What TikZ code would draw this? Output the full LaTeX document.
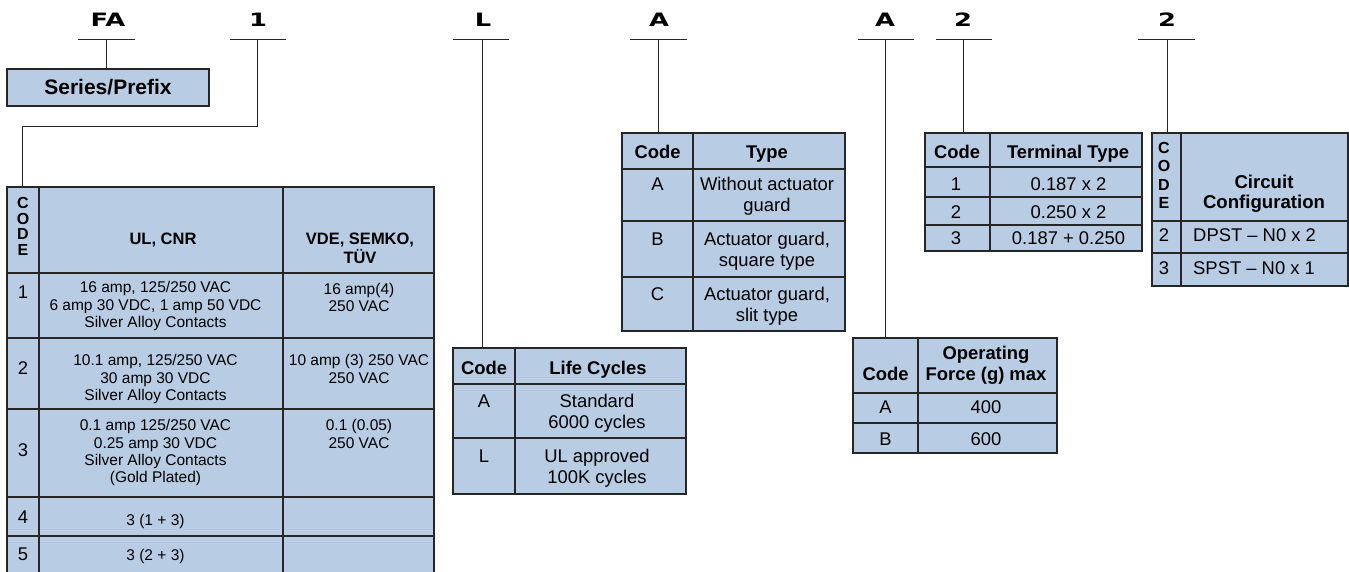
\documentclass[tikz,border=0pt]{standalone}
\usepackage{fontspec}
\setmainfont{Liberation Sans}
\newfontfamily\codefont{DejaVu Sans}
\definecolor{cellblue}{HTML}{B8CCE4}
\definecolor{rule}{HTML}{262626}
\newcommand\fsSmall{\fontsize{15.5}{17.3}\selectfont}
\newcommand\fsMid{\fontsize{18.4}{21}\selectfont}
\newcommand\fsKey[1]{\fontsize{18.4}{20}\selectfont\codefont\bfseries\scalebox{1.4}[1]{#1}}
\begin{document}
\begin{tikzpicture}[x=1pt,y=-1pt,
    key/.style={inner sep=0,anchor=base},
    tbl/.style={fill=cellblue,draw=rule,line width=1.3pt,inner sep=0,outer sep=0,anchor=north west},
    grid/.style={draw=rule,line width=1.3pt},
    stem/.style={draw=rule,line width=1pt},
    sm/.style={inner sep=0,anchor=north,align=center,font=\fsSmall},
    md/.style={inner sep=0,anchor=north,align=center,font=\fsMid},
    hd/.style={md,font=\fsMid\bfseries}]
  \useasboundingbox (0,0) rectangle (1349,571);

  % code letters on top
  \draw (108,26.7) node[key](kFA){\fsKey{FA}};
  \draw (258,26.7) node[key](kNum){\fsKey{1}};
  \draw (483,26.7) node[key](kLife){\fsKey{L}};
  \draw (659,26.7) node[key](kType){\fsKey{A}};
  \draw (885,26.7) node[key](kForce){\fsKey{A}};
  \draw (963,26.7) node[key](kTerm){\fsKey{2}};
  \draw (1167,26.7) node[key](kCirc){\fsKey{2}};
  \draw[stem] (78,39) -- (135,39) (230,39) -- (286,39) (453,39) -- (509,39)
    (630,39) -- (687,39) (858,39) -- (914,39) (936,39) -- (992,39) (1138,39) -- (1195,39);
  \coordinate (sFA) at (106,39);
  \coordinate (sNum) at (257,39);
  \coordinate (jNum) at (22,126);
  \coordinate (sLife) at (482,39);
  \coordinate (sType) at (658,39);
  \coordinate (sForce) at (885,39);
  \coordinate (sTerm) at (963,39);
  \coordinate (sCirc) at (1167,39);

  % series box
  \draw (7,69) node[tbl,minimum width=202,minimum height=37,font=\fontsize{21}{22}\selectfont\bfseries](series){Series/Prefix};

  % UL / VDE table (runs off the bottom)
  \draw (7,187) node[tbl,draw=none,minimum width=427,minimum height=386](ul){};
  \draw[grid] (ul.south west) -- (ul.north west) -- (ul.north east) -- (ul.south east);
  \draw[grid] (39,187) -- (39,573) (283,187) -- (283,573)
    (7,273) -- (434,273) (7,338) -- (434,338) (7,409) -- (434,409)
    (7,497) -- (434,497) (7,536) -- (434,536);
  \draw (23,197) node[sm,font=\fontsize{16}{15.7}\selectfont\bfseries](ulC){C\\O\\D\\E};
  \draw (163,233) node[sm,font=\fontsize{16.5}{19}\selectfont\bfseries](ulH){UL, CNR};
  \draw (360,233) node[sm,font=\fontsize{16.5}{19}\selectfont\bfseries](vdeH){VDE, SEMKO,\\TÜV};
  \draw (23,285.4) node[md](ul1){1};
  \draw (155.5,281.4) node[sm](ul1a){16 amp, 125/250 VAC\\6 amp 30 VDC, 1 amp 50 VDC\\Silver Alloy Contacts};
  \draw (359,283) node[sm](ul1b){16 amp(4)\\250 VAC};
  \draw (23,361.4) node[md](ul2){2};
  \draw (155.5,354.4) node[sm](ul2a){10.1 amp, 125/250 VAC\\30 amp 30 VDC\\Silver Alloy Contacts};
  \draw (359,354.4) node[sm](ul2b){10 amp (3) 250 VAC\\250 VAC};
  \draw (23,443.4) node[md](ul3){3};
  \draw (155.5,419.4) node[sm](ul3a){0.1 amp 125/250 VAC\\0.25 amp 30 VDC\\Silver Alloy Contacts\\(Gold Plated)};
  \draw (359,419.4) node[sm](ul3b){0.1 (0.05)\\250 VAC};
  \draw (23,510.4) node[md](ul4){4};
  \draw (155.5,514.4) node[sm](ul4a){3 (1 + 3)};
  \draw (23,547.4) node[md](ul5){5};
  \draw (155.5,549.4) node[sm](ul5a){3 (2 + 3)};

  % life cycles
  \draw (453,348) node[tbl,minimum width=233,minimum height=146](life){};
  \draw[grid] (515,348) -- (515,494) (453,384) -- (686,384) (453,438) -- (686,438);
  \draw (484,361.4) node[hd](lifeC){Code};
  \draw (598,361.4) node[hd](lifeH){Life Cycles};
  \draw (484,394.4) node[md](lifeA){A};
  \draw (597,394.4) node[md](lifeAt){Standard\\6000 cycles};
  \draw (484,449.4) node[md](lifeL){L};
  \draw (597,449.4) node[md](lifeLt){UL approved\\100K cycles};

  % actuator type
  \draw (622,133) node[tbl,minimum width=223,minimum height=198](type){};
  \draw[grid] (693,133) -- (693,331) (622,169) -- (845,169) (622,221) -- (845,221) (622,277) -- (845,277);
  \draw (657.5,145.4) node[hd](typeC){Code};
  \draw (767,145.4) node[hd](typeH){Type};
  \draw (657.5,177.4) node[md](typeA){A};
  \draw (767,177.4) node[md](typeAt){Without actuator\\guard};
  \draw (657.5,232.4) node[md](typeB){B};
  \draw (767,232.4) node[md](typeBt){Actuator guard,\\square type};
  \draw (657.5,287.4) node[md](typeCc){C};
  \draw (767,287.4) node[md](typeCt){Actuator guard,\\slit type};

  % operating force
  \draw (853,338) node[tbl,minimum width=204,minimum height=115](force){};
  \draw[grid] (918,338) -- (918,453) (853,393) -- (1057,393) (853,423) -- (1057,423);
  \draw (885.5,367.4) node[hd](forceC){Code};
  \draw (986,346.4) node[hd](forceH){Operating\\Force (g) max};
  \draw (885.5,400.4) node[md](forceA){A};
  \draw (986,400.4) node[md](forceAt){400};
  \draw (885.5,432.4) node[md](forceB){B};
  \draw (986,432.4) node[md](forceBt){600};

  % terminal type
  \draw (925,133) node[tbl,minimum width=217,minimum height=118](term){};
  \draw[grid] (990,133) -- (990,251) (925,167) -- (1142,167) (925,197) -- (1142,197) (925,225) -- (1142,225);
  \draw (957,145.4) node[hd](termC){Code};
  \draw (1068,145.4) node[hd](termH){Terminal Type};
  \draw (956,177.4) node[md](term1){1};
  \draw (1068.5,177.4) node[md](term1t){0.187 x 2};
  \draw (956,205.4) node[md](term2){2};
  \draw (1068.5,205.4) node[md](term2t){0.250 x 2};
  \draw (956,231.4) node[md](term3){3};
  \draw (1068.5,231.4) node[md](term3t){0.187 + 0.250};

  % circuit configuration
  \draw (1152,133) node[tbl,minimum width=196,minimum height=153](circ){};
  \draw[grid] (1181,133) -- (1181,286) (1152,221) -- (1348,221) (1152,253) -- (1348,253);
  \draw (1164,142.2) node[sm,font=\fontsize{16}{18.3}\selectfont\bfseries](circC){C\\O\\D\\E};
  \draw (1264,175.3) node[hd,font=\fontsize{18.6}{20}\selectfont\bfseries](circH){Circuit\\Configuration};
  \draw (1164,228.4) node[md](circ2){2};
  \draw (1193,228.4) node[md,anchor=north west](circ2t){DPST – N0 x 2};
  \draw (1164,261.4) node[md](circ3){3};
  \draw (1193,261.4) node[md,anchor=north west](circ3t){SPST – N0 x 1};

  % stems from the code letters down to their tables
  \draw[stem] (sFA) -- (sFA |- series.north);
  \draw[stem] (sNum) |- (jNum) -- (jNum |- ul.north);
  \draw[stem] (sLife) -- (sLife |- life.north);
  \draw[stem] (sType) -- (sType |- type.north);
  \draw[stem] (sForce) -- (sForce |- force.north);
  \draw[stem] (sTerm) -- (sTerm |- term.north);
  \draw[stem] (sCirc) -- (sCirc |- circ.north);
\end{tikzpicture}
\end{document}
